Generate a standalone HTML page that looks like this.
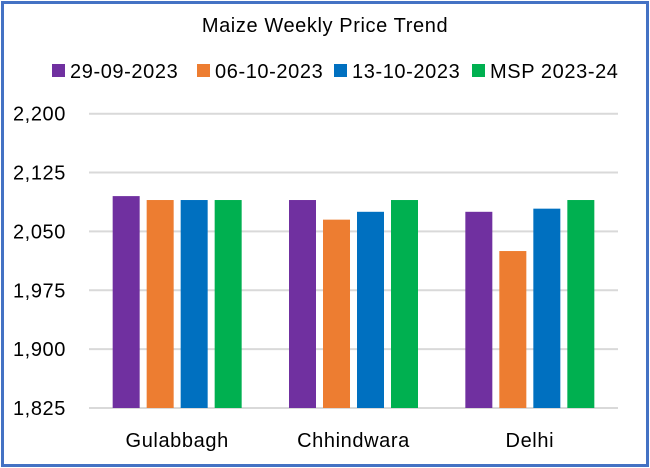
<!DOCTYPE html>
<html><head><meta charset="utf-8"><style>
body{margin:0;background:#fff;font-family:"Liberation Sans",sans-serif}
#wrap{position:absolute;left:1px;top:1px;width:642px;height:460px;border:3px solid #4472C4;background:#fff}
text{letter-spacing:0.6px}
</style></head><body>
<div id="wrap"></div>
<svg id="c" width="650" height="468" style="position:absolute;left:0;top:0"></svg>
<script>
const categories=["Gulabbagh","Chhindwara","Delhi"];
const seriesNames=["29-09-2023","06-10-2023","13-10-2023","MSP 2023-24"];
const s1=[2095,2090,2075];
const s2=[2090,2065,2025];
const s3=[2090,2075,2079];
const s4=[2090,2090,2090];
const ticks=[1825,1900,1975,2050,2125,2200];
const colors=["#7030A0","#ED7D31","#0070C0","#00B050"];
const series=[s1,s2,s3,s4];
const NS="http://www.w3.org/2000/svg",svg=document.getElementById('c');
const x0=89,x1=618,yTop=113.7,yBot=408,vMin=1825,vMax=2200;
const y=v=>yBot-(v-vMin)/(vMax-vMin)*(yBot-yTop);
function mk(t,a,txt){const e=document.createElementNS(NS,t);for(const k in a)e.setAttribute(k,a[k]);if(txt!=null)e.textContent=txt;svg.appendChild(e);return e;}
let t=mk('text',{x:325,y:32,'text-anchor':'middle','font-size':20,fill:'#000'},'Maize Weekly Price Trend');


const lx=[52,197,334,472];
seriesNames.forEach((n,i)=>{
 let r=mk('rect',{x:lx[i],y:64,width:13,height:13,fill:colors[i]});
 
 
 let tt=mk('text',{x:lx[i]+18,y:78,'font-size':20,fill:'#000'},n);
 
 
});
ticks.forEach(v=>{
 let l=mk('line',{x1:x0,x2:x1,y1:y(v),y2:y(v),stroke:'#d9d9d9','stroke-width':2});
 
 
 let tt=mk('text',{x:66,y:y(v)+7,'text-anchor':'end','font-size':20,fill:'#000'},v.toLocaleString('en-US'));
 
 
});
const cw=(x1-x0)/categories.length,bw=27,gap=7;
categories.forEach((c,ci)=>{
 const start=x0+ci*cw+cw/2-(4*bw+3*gap)/2;
 series.forEach((s,si)=>{
  const v=s[ci];
  let r=mk('rect',{x:start+si*(bw+gap),y:y(v),width:bw,height:yBot-y(v),fill:colors[si]});
  
  
 });
 let tt=mk('text',{x:x0+ci*cw+cw/2,y:447,'text-anchor':'middle','font-size':20,fill:'#000'},c);
 
 
});
</script>
</body></html>
